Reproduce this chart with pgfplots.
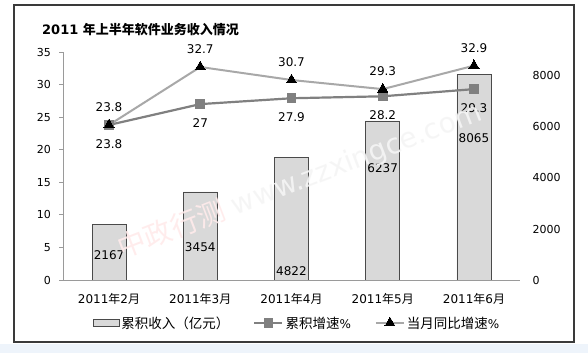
\documentclass[border=0pt]{standalone}
\usepackage{pgfplots}
\pgfplotsset{compat=1.18}
\usepackage{fontspec}
\setmainfont{DejaVu Sans}
\newfontfamily\cjk{Noto Sans CJK SC}
\definecolor{barfill}{HTML}{D9D9D9}
\definecolor{bardraw}{HTML}{4A4A4A}
\definecolor{sqcol}{HTML}{808080}
\definecolor{tricol}{HTML}{A8A8A8}
\definecolor{axcol}{HTML}{9A9A9A}
\definecolor{framecol}{HTML}{3A3A3A}
\definecolor{bgblue}{HTML}{EEF4FB}
\begin{document}
\begin{tikzpicture}[x=1pt,y=1pt]
\path[use as bounding box] (0,0) rectangle (588,353);
\fill[white] (0,0) rectangle (588,353);
\fill[bgblue] (0,0) rectangle (588,9);
\draw[framecol, line width=1.3pt] (14,11) rectangle (574,348);
\node[anchor=west, inner sep=0pt, font=\fontsize{13}{15}\selectfont\bfseries] at (42,323) {2011 {\cjk\bfseries 年上半年软件业务收入情况}};

% bars on the secondary (right) axis
\begin{axis}[at={(63.4pt,73pt)}, anchor=south west, scale only axis,
  width=456.2pt, height=228pt,
  xmin=-0.5, xmax=4.5, ymin=0, ymax=8941,
  axis x line=none, axis y line*=right,
  y axis line style={draw=none},
  ytick={0,2000,4000,6000,8000},
  major tick length=0pt,
  scaled y ticks=false,
  /pgf/number format/assume math mode=true,
  yticklabel style={font=\fontsize{11}{13}\selectfont, anchor=west, xshift=9.5pt, /pgf/number format/1000 sep={}},
  clip=false]
\addplot[ybar, bar width=34pt, fill=barfill, draw=bardraw, line width=0.8pt]
  coordinates {(0,2167) (1,3454) (2,4822) (3,6237) (4,8065)};
\addplot[only marks, mark=none, nodes near coords, point meta=explicit symbolic,
  every node near coord/.append style={anchor=center, font=\fontsize{12}{14}\selectfont, inner sep=0pt}]
  table[meta=lab] {
x y lab
0 980 2167
1 1294 3454
2 353 4822
3 4392 6237
4 5569 8065
};
\end{axis}

% lines on the primary (left) axis
\begin{axis}[at={(63.4pt,73pt)}, anchor=south west, scale only axis,
  width=456.2pt, height=228pt,
  xmin=-0.5, xmax=4.5, ymin=0, ymax=35,
  axis x line*=bottom, axis y line*=left,
  axis line style={draw=axcol, line width=0.8pt},
  x axis line style={-}, y axis line style={-},
  ytick={0,5,...,35},
  ytick style={draw=axcol, line width=0.8pt},
  tick align=outside, major tick length=4pt,
  xtick={0,1,2,3,4}, xtick style={draw=none},
  /pgf/number format/assume math mode=true,
  xticklabels={{2011{\cjk 年}2{\cjk 月}},{2011{\cjk 年}3{\cjk 月}},{2011{\cjk 年}4{\cjk 月}},{2011{\cjk 年}5{\cjk 月}},{2011{\cjk 年}6{\cjk 月}}},
  xticklabel style={font=\fontsize{12}{14}\selectfont, yshift=-6pt},
  yticklabel style={font=\fontsize{11}{13}\selectfont, xshift=-5pt},
  legend columns=3,
  legend style={at={(axis description cs:0.512,-0.189)}, anchor=center, draw=none, fill=none,
    font=\fontsize{13.5}{15}\selectfont, /tikz/every even column/.append style={column sep=22pt}},
  legend image code/.code={\draw[mark repeat=2,mark phase=2,#1] plot coordinates {(0pt,0pt) (14pt,0pt) (28pt,0pt)};},
  clip=false]
\addlegendimage{legend image code/.code={\draw[fill=barfill,draw=bardraw,line width=0.8pt] (0pt,-3.5pt) rectangle (26pt,3.5pt);}}
\addlegendentry{{\cjk 累积收入（亿元）}}
\addplot[color=sqcol, line width=2.2pt, mark=square*, mark size=4.3pt,
  mark options={fill=sqcol, draw=sqcol, line width=0pt},
  nodes near coords, every node near coord/.append style={anchor=center, yshift=-19pt, font=\fontsize{12}{14}\selectfont, text=black}]
  coordinates {(0,23.8) (1,27) (2,27.9) (3,28.2) (4,29.3)};
\addlegendentry{{\cjk 累积增速}{\fontsize{12}{14}\selectfont\%}}
\addplot[color=tricol, line width=2pt, mark=triangle*, mark size=5.8pt,
  mark options={fill=black, draw=black, line width=0pt},
  nodes near coords, every node near coord/.append style={anchor=center, yshift=18pt, font=\fontsize{12}{14}\selectfont, text=black}]
  coordinates {(0,23.8) (1,32.7) (2,30.7) (3,29.3) (4,32.9)};
\addlegendentry{{\cjk 当月同比增速}{\fontsize{12}{14}\selectfont\%}}
\end{axis}

% watermark
\node[rotate=21, font=\fontsize{28}{30}\selectfont, text=gray!8, opacity=0.9] at (300,172)
  {{\cjk\color{red!8} 中政行测} www.zzxingce.com};
\end{tikzpicture}
\end{document}
